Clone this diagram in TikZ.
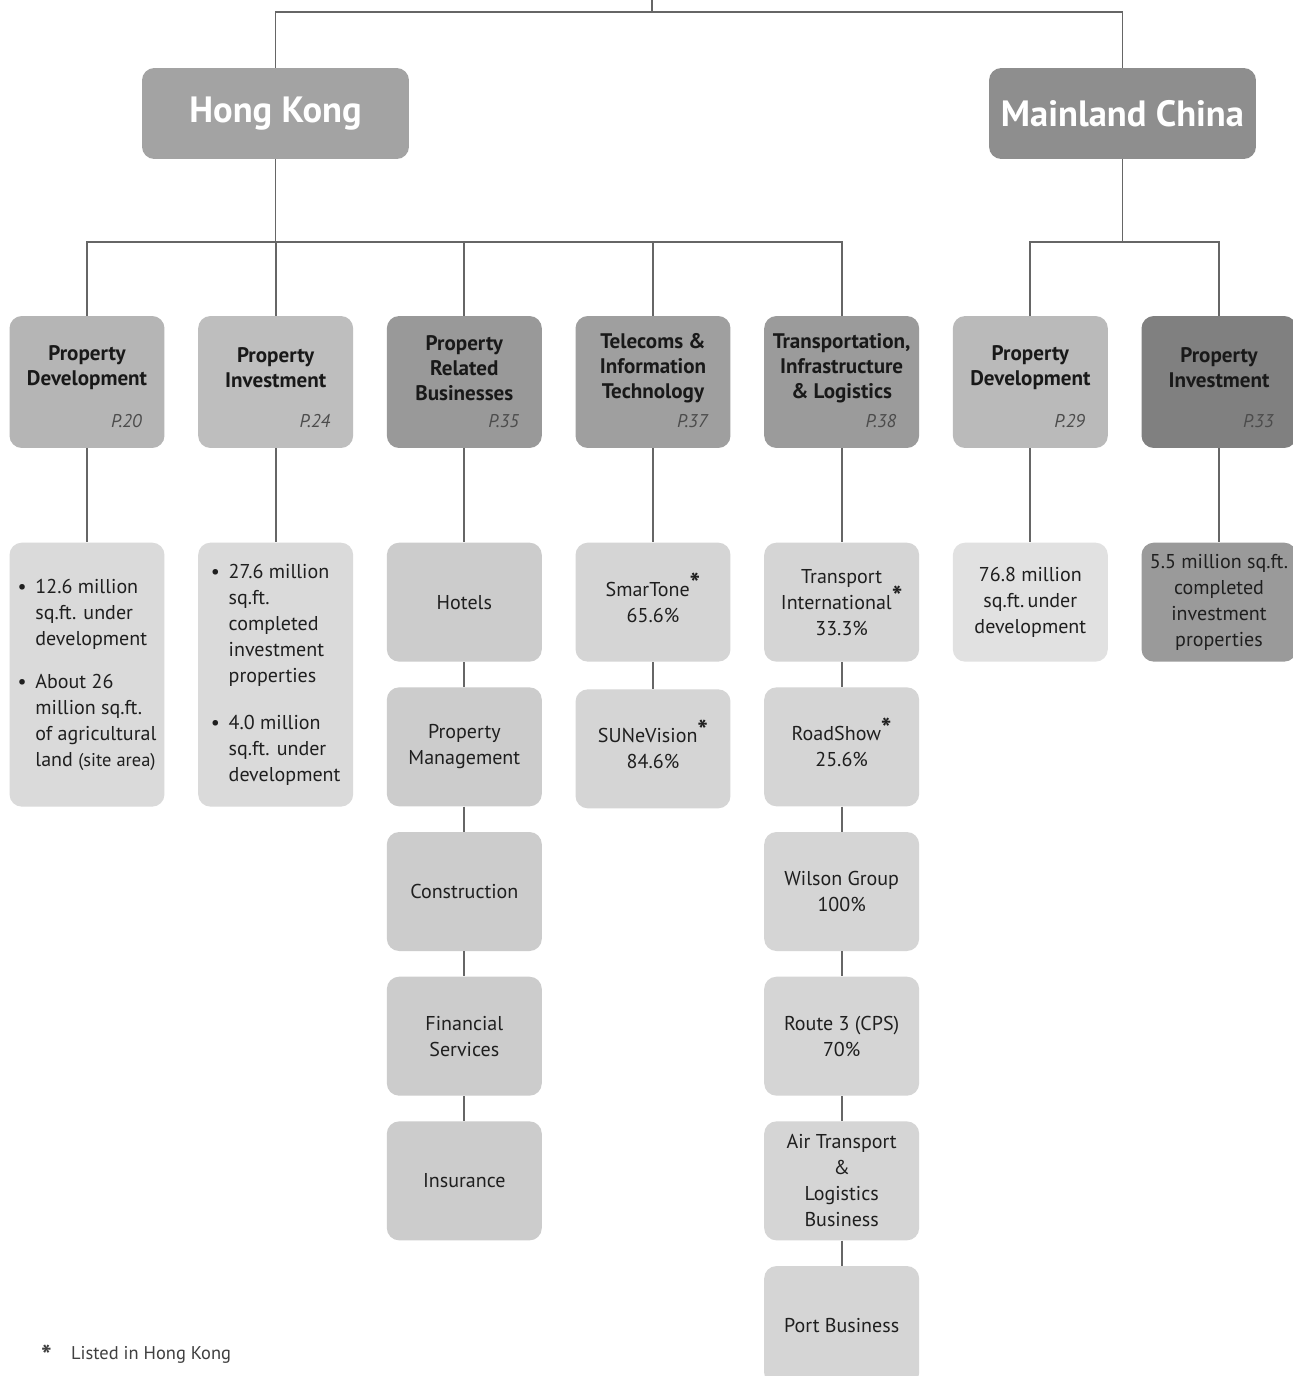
\documentclass[tikz,border=0pt]{standalone}
\usepackage{fontspec}
\setmainfont{PT Sans}
\usetikzlibrary{positioning}
\definecolor{colLine}{RGB}{102,102,102}
\definecolor{colHK}{RGB}{163,163,163}
\definecolor{colMC}{RGB}{142,142,142}
\definecolor{colHkPD}{RGB}{181,181,181}
\definecolor{colHkPI}{RGB}{190,190,190}
\definecolor{colPRB}{RGB}{153,153,153}
\definecolor{colTIT}{RGB}{159,159,159}
\definecolor{colTIL}{RGB}{155,155,155}
\definecolor{colMcPD}{RGB}{186,186,186}
\definecolor{colMcPI}{RGB}{128,128,128}
\definecolor{colPale}{RGB}{218,218,218}
\definecolor{colMid}{RGB}{204,204,204}
\definecolor{colSub}{RGB}{213,213,213}
\definecolor{colLight}{RGB}{225,225,225}
\definecolor{colDark}{RGB}{154,154,154}
\newcommand{\listed}{\smash{\raisebox{0.25ex}{\fontsize{16}{16}\selectfont\textbf{*}}}}
\tikzset{
  box/.style={
    rectangle, rounded corners=7pt,
    inner sep=2pt, align=center, text=black!88
  },
  region/.style={
    box, minimum width=5.34cm, minimum height=1.82cm,
    text=white, font=\fontsize{20.8}{25}\selectfont\bfseries
  },
  segBox/.style={
    box, minimum width=3.1cm, minimum height=2.64cm
  },
  segText/.style={
    font=\fontsize{12}{14.2}\selectfont\bfseries, align=center, text=black!90
  },
  pageNo/.style={
    font=\fontsize{10.5}{12}\selectfont\itshape, text=black!70, anchor=base east
  },
  itemBox/.style={
    box, minimum width=3.1cm, minimum height=2.38cm,
    font=\fontsize{11.4}{14.8}\selectfont
  },
  tallBox/.style={
    itemBox, minimum height=5.28cm
  },
  link/.style={
    draw=colLine, line width=1.1pt
  },
  note/.style={
    font=\fontsize{10.5}{12}\selectfont, text=black!75, anchor=base west
  }
}

\begin{document}
\begin{tikzpicture}[x=0.02cm, y=-0.02cm, node distance=0.5cm]

  \useasboundingbox (0,0) rectangle (1293,1376);
  \fill[white] (0,0) rectangle (1293,1376);

  % regions
  \node[region, fill=colHK] (hk) at (275.5,113.5) {Hong Kong};
  \node[region, fill=colMC] (mc) at (1122.5,113.5) {Mainland China};

  \coordinate (top) at (652,0);
  \coordinate (topbar) at (652,12);
  \draw[link] (top) -- (topbar);
  \draw[link] (hk.north) |- (topbar) -| (mc.north);

  % segments
  \node[segBox, fill=colHkPD] (hkpd) at (87,382) {};
  \node[segBox, fill=colHkPI, right=0.66cm of hkpd] (hkpi) {};
  \node[segBox, fill=colPRB, right=0.66cm of hkpi] (prb) {};
  \node[segBox, fill=colTIT, right=0.66cm of prb] (tit) {};
  \node[segBox, fill=colTIL, right=0.66cm of tit] (til) {};
  \node[segBox, fill=colMcPD, right=0.66cm of til] (mcpd) {};
  \node[segBox, fill=colMcPI, right=0.66cm of mcpd] (mcpi) {};

  \node[segText] (hkpdT) at ([yshift=0.28cm]hkpd.center) {Property\\Development};
  \node[segText] (hkpiT) at ([yshift=0.28cm]hkpi.center) {Property\\Investment};
  \node[segText] (prbT) at ([yshift=0.28cm]prb.center) {Property\\Related\\Businesses};
  \node[segText] (titT) at ([yshift=0.28cm]tit.center) {Telecoms \&\\Information\\Technology};
  \node[segText] (tilT) at ([yshift=0.28cm]til.center) {Transportation,\\Infrastructure\\\& Logistics};
  \node[segText] (mcpdT) at ([yshift=0.28cm]mcpd.center) {Property\\Development};
  \node[segText] (mcpiT) at ([yshift=0.28cm]mcpi.center) {Property\\Investment};

  \node[pageNo] (hkpdP) at ([shift={(-0.34cm,0.42cm)}]hkpd.south east) {P.20};
  \node[pageNo] (hkpiP) at ([shift={(-0.34cm,0.42cm)}]hkpi.south east) {P.24};
  \node[pageNo] (prbP) at ([shift={(-0.34cm,0.42cm)}]prb.south east) {P.35};
  \node[pageNo] (titP) at ([shift={(-0.34cm,0.42cm)}]tit.south east) {P.37};
  \node[pageNo] (tilP) at ([shift={(-0.34cm,0.42cm)}]til.south east) {P.38};
  \node[pageNo] (mcpdP) at ([shift={(-0.34cm,0.42cm)}]mcpd.south east) {P.29};
  \node[pageNo] (mcpiP) at ([shift={(-0.34cm,0.42cm)}]mcpi.south east) {P.33};

  \foreach \seg in {hkpd, hkpi, prb, tit, til}
    \draw[link] (hk.south) -- ++(0,-1.66cm) -| (\seg.north);
  \foreach \seg in {mcpd, mcpi}
    \draw[link] (mc.south) -- ++(0,-1.66cm) -| (\seg.north);

  % details
  \node[tallBox, fill=colPale, below=1.88cm of hkpd] (hkpdD) {%
    \begin{tabular}{@{}l@{\hspace{5pt}}l@{}}
      \textbullet & 12.6 million\\
      & sq.ft. under\\
      & development\\[10pt]
      \textbullet & About 26\\
      & million sq.ft.\\
      & of agricultural\\
      & land {\fontsize{10.5}{14.8}\selectfont(site area)}
    \end{tabular}};
  \node[tallBox, fill=colPale, below=1.88cm of hkpi] (hkpiD) {%
    \begin{tabular}{@{}l@{\hspace{5pt}}l@{}}
      \textbullet & 27.6 million\\
      & sq.ft.\\
      & completed\\
      & investment\\
      & properties\\[12pt]
      \textbullet & 4.0 million\\
      & sq.ft. under\\
      & development
    \end{tabular}};

  \node[itemBox, fill=colMid, below=1.88cm of prb] (hotel) {Hotels};
  \node[itemBox, fill=colMid, below=of hotel] (mgmt) {Property\\Management};
  \node[itemBox, fill=colMid, below=of mgmt] (constr) {Construction};
  \node[itemBox, fill=colMid, below=of constr] (finance) {Financial\\Services};
  \node[itemBox, fill=colMid, below=of finance] (insur) {Insurance};

  \node[itemBox, fill=colSub, below=1.88cm of tit] (smartone) {SmarTone\listed\\65.6\%};
  \node[itemBox, fill=colSub, below=0.54cm of smartone] (sunevision) {SUNeVision\listed\\84.6\%};

  \node[itemBox, fill=colSub, below=1.88cm of til] (transport) {Transport\\International\listed\\33.3\%};
  \node[itemBox, fill=colSub, below=of transport] (roadshow) {RoadShow\listed\\25.6\%};
  \node[itemBox, fill=colSub, below=of roadshow] (wilson) {Wilson Group\\100\%};
  \node[itemBox, fill=colSub, below=of wilson] (route) {Route 3 (CPS)\\70\%};
  \node[itemBox, fill=colSub, below=of route] (air) {Air Transport\\\&\\Logistics\\Business};
  \node[itemBox, fill=colSub, below=of air] (port) {Port Business};

  \node[itemBox, fill=colLight, below=1.88cm of mcpd] (mcpdD) {76.8 million\\sq.ft.\,under\\development};
  \node[itemBox, fill=colDark, below=1.88cm of mcpi] (mcpiD) {5.5 million sq.ft.\\completed\\investment\\properties};

  \foreach \a/\b in {hkpd/hkpdD, hkpi/hkpiD, prb/hotel, hotel/mgmt, mgmt/constr,
      constr/finance, finance/insur, tit/smartone, smartone/sunevision,
      til/transport, transport/roadshow, roadshow/wilson, wilson/route,
      route/air, air/port, mcpd/mcpdD, mcpi/mcpiD}
    \draw[link] (\a) -- (\b);

  % footnote
  \node[note] (fnote) at (35,1359) {\raisebox{-0.7ex}{\fontsize{16}{16}\selectfont\textbf{*}}\hspace{11pt}Listed in Hong Kong};

\end{tikzpicture}
\end{document}
